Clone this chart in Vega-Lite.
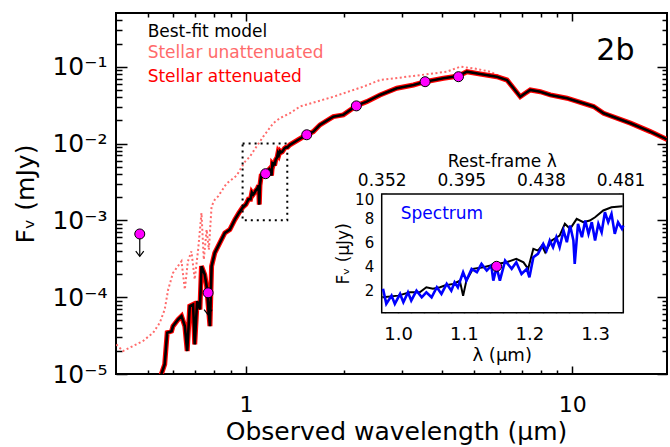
{
  "$schema": "https://vega.github.io/schema/vega-lite/v6.json",
  "width": 551,
  "height": 361,
  "autosize": {"type": "none"},
  "padding": {"left": 116, "top": 13, "right": 3, "bottom": 73},
  "background": "white",
  "datasets": {
    "model": [
      {"w":0.545,"f":8e-6},{"w":0.551,"f":1.0e-5},{"w":0.564,"f":1.34e-5},{"w":0.574,"f":3.45e-5},{"w":0.592,"f":3.61e-5},{"w":0.598,"f":4.2e-5},{"w":0.620,"f":5.13e-5},{"w":0.635,"f":5.66e-5},{"w":0.650,"f":4.2e-5},{"w":0.661,"f":1.99e-5},{"w":0.673,"f":7.64e-5},{"w":0.689,"f":8.03e-5},{"w":0.697,"f":2.43e-5},{"w":0.709,"f":8.87e-5},{"w":0.723,"f":6.92e-5},{"w":0.731,"f":2.53e-4},{"w":0.748,"f":1.97e-4},{"w":0.758,"f":1.39e-4},{"w":0.776,"f":4.2e-5},{"w":0.785,"f":2.53e-4},{"w":0.803,"f":3.78e-4},{"w":0.832,"f":5.09e-4},{"w":0.862,"f":6.86e-4},{"w":0.893,"f":7.57e-4},{"w":0.925,"f":1.02e-3},{"w":0.952,"f":1.25e-3},
      {"w":0.977,"f":1.47e-3},{"w":1.000,"f":1.61e-3},{"w":1.018,"f":1.88e-3},{"w":1.033,"f":1.88e-3},{"w":1.043,"f":2.30e-3},{"w":1.053,"f":2.17e-3},{"w":1.064,"f":2.30e-3},{"w":1.071,"f":2.44e-3},{"w":1.084,"f":2.58e-3},{"w":1.094,"f":2.85e-3},{"w":1.099,"f":1.6e-3},{"w":1.104,"f":2.85e-3},{"w":1.114,"f":3.82e-3},{"w":1.130,"f":3.95e-3},{"w":1.150,"f":4.23e-3},{"w":1.165,"f":4.36e-3},{"w":1.180,"f":4.64e-3},{"w":1.191,"f":4.36e-3},{"w":1.198,"f":3.82e-3},{"w":1.206,"f":5.47e-3},{"w":1.213,"f":5.33e-3},{"w":1.219,"f":5.74e-3},{"w":1.224,"f":5.19e-3},{"w":1.234,"f":6.16e-3},{"w":1.246,"f":6.57e-3},{"w":1.254,"f":7.54e-3},{"w":1.262,"f":7.12e-3},{"w":1.272,"f":7.95e-3},{"w":1.282,"f":7.67e-3},{"w":1.292,"f":7.81e-3},{"w":1.300,"f":8.08e-3},{"w":1.3125,"f":8.64e-3},{"w":1.325,"f":8.91e-3},{"w":1.342,"f":8.99e-3},
      {"w":1.364,"f":9.62e-3},{"w":1.447,"f":1.12e-2},{"w":1.535,"f":1.30e-2},{"w":1.609,"f":1.43e-2},{"w":1.686,"f":1.75e-2},{"w":1.853,"f":2.24e-2},{"w":1.988,"f":2.36e-2},{"w":2.175,"f":3.09e-2},{"w":2.345,"f":3.51e-2},{"w":2.576,"f":4.29e-2},{"w":2.900,"f":5.24e-2},{"w":3.261,"f":5.78e-2},{"w":3.540,"f":6.38e-2},{"w":4.030,"f":7.07e-2},{"w":4.479,"f":7.57e-2},{"w":4.753,"f":8.61e-2},{"w":5.222,"f":8.04e-2},{"w":5.875,"f":7.41e-2},{"w":6.305,"f":6.71e-2},{"w":6.607,"f":5.24e-2},{"w":6.928,"f":4.07e-2},{"w":7.175,"f":4.51e-2},{"w":7.433,"f":4.98e-2},{"w":7.978,"f":4.73e-2},{"w":8.56,"f":4.29e-2},{"w":9.63,"f":3.89e-2},{"w":11.62,"f":3.03e-2},{"w":12.47,"f":2.48e-2},{"w":15.07,"f":1.84e-2},{"w":17.34,"f":1.43e-2},{"w":19.5,"f":1.13e-2}
    ],
    "unatt": [
      {"w":0.401,"f":2.43e-5},{"w":0.420,"f":1.99e-5},{"w":0.451,"f":2.31e-5},{"w":0.484,"f":2.69e-5},{"w":0.520,"f":3.45e-5},{"w":0.545,"f":4.66e-5},{"w":0.564,"f":6.92e-5},{"w":0.578,"f":1.26e-4},{"w":0.598,"f":2.07e-4},{"w":0.635,"f":2.94e-4},{"w":0.650,"f":1.26e-4},{"w":0.664,"f":2.91e-4},{"w":0.681,"f":3.95e-4},{"w":0.697,"f":1.70e-4},{"w":0.714,"f":4.16e-4},{"w":0.731,"f":1.25e-3},{"w":0.743,"f":3.09e-4},{"w":0.758,"f":7.57e-4},{"w":0.770,"f":4.16e-4},{"w":0.785,"f":1.52e-3},{"w":0.803,"f":1.86e-3},{"w":0.822,"f":2.05e-3},{"w":0.872,"f":3.0e-3},{"w":0.936,"f":3.81e-3},{"w":0.993,"f":5.79e-3},{"w":1.029,"f":6.78e-3},{"w":1.078,"f":9.14e-3},{"w":1.130,"f":1.23e-2},{"w":1.213,"f":1.84e-2},{"w":1.271,"f":2.14e-2},{"w":1.364,"f":2.48e-2},{"w":1.464,"f":3.03e-2},{"w":1.648,"f":3.51e-2},{"w":1.853,"f":4.07e-2},{"w":2.290,"f":5.5e-2},{"w":2.576,"f":6.71e-2},{"w":3.261,"f":7.57e-2},{"w":4.127,"f":8.61e-2},{"w":4.533,"f":0.1},{"w":4.98,"f":9.53e-2},{"w":5.605,"f":8.61e-2},{"w":6.155,"f":7.07e-2},{"w":6.45,"f":6.33e-2}
    ],
    "phot": [
      {"w":0.473,"f":6.65e-4},{"w":0.766,"f":1.14e-4},{"w":1.149,"f":4.05e-3},{"w":1.536,"f":1.30e-2},{"w":2.18,"f":3.09e-2},{"w":3.54,"f":6.38e-2},{"w":4.48,"f":7.41e-2}
    ],
    "limits": [
      {"w":0.473,"f":6.65e-4,"fe":3.4e-4},{"w":0.766,"f":1.14e-4,"fe":5.9e-5}
    ],
    "box": [{"x1":0.977,"x2":1.339,"y1":0.001,"y2":0.01}],
    "legend": [
      {"label":"Best-fit model","w":0.5,"f":0.2454},
      {"label":"Stellar unattenuated","w":0.5,"f":0.1285},
      {"label":"Stellar attenuated","w":0.5,"f":0.0638}
    ],
    "tag": [{"label":"2b","w":15.5,"f":0.122}],
    "insetbox": [{"x1":0.975,"x2":1.343,"y1":0.2,"y2":10}],
    "imodel": [
      {"w":0.976,"f":1.45},{"w":0.977,"f":1.47},{"w":1.000,"f":1.61},{"w":1.018,"f":1.88},{"w":1.033,"f":1.88},{"w":1.043,"f":2.30},{"w":1.053,"f":2.17},{"w":1.064,"f":2.30},{"w":1.071,"f":2.44},{"w":1.084,"f":2.58},{"w":1.094,"f":2.85},{"w":1.099,"f":1.6},{"w":1.104,"f":2.85},{"w":1.114,"f":3.82},{"w":1.130,"f":3.95},{"w":1.150,"f":4.23},{"w":1.165,"f":4.36},{"w":1.180,"f":4.64},{"w":1.191,"f":4.36},{"w":1.198,"f":3.82},{"w":1.206,"f":5.47},{"w":1.213,"f":5.33},{"w":1.219,"f":5.74},{"w":1.224,"f":5.19},{"w":1.234,"f":6.16},{"w":1.246,"f":6.57},{"w":1.254,"f":7.54},{"w":1.262,"f":7.12},{"w":1.272,"f":7.95},{"w":1.282,"f":7.67},{"w":1.292,"f":7.81},{"w":1.300,"f":8.08},{"w":1.3125,"f":8.64},{"w":1.325,"f":8.91},{"w":1.342,"f":8.99}
    ],
    "spectrum": [
      {"w":0.977,"f":2.17},{"w":0.982,"f":0.93},{"w":0.990,"f":1.61},{"w":0.995,"f":0.93},{"w":1.003,"f":1.75},{"w":1.008,"f":1.06},{"w":1.015,"f":1.88},{"w":1.020,"f":1.20},{"w":1.028,"f":2.02},{"w":1.036,"f":1.47},{"w":1.043,"f":1.88},{"w":1.051,"f":1.47},{"w":1.059,"f":2.30},{"w":1.066,"f":1.75},{"w":1.074,"f":2.58},{"w":1.081,"f":2.02},{"w":1.086,"f":2.71},{"w":1.091,"f":2.30},{"w":1.099,"f":3.54},{"w":1.104,"f":2.85},{"w":1.112,"f":3.82},{"w":1.120,"f":3.54},{"w":1.127,"f":4.23},{"w":1.135,"f":3.68},{"w":1.142,"f":4.09},{"w":1.145,"f":2.85},{"w":1.150,"f":3.95},{"w":1.155,"f":2.85},{"w":1.163,"f":4.50},{"w":1.173,"f":3.82},{"w":1.180,"f":4.36},{"w":1.188,"f":3.40},{"w":1.196,"f":3.82},{"w":1.200,"f":3.12},{"w":1.206,"f":4.78},{"w":1.213,"f":5.06},{"w":1.221,"f":5.88},{"w":1.226,"f":5.33},{"w":1.231,"f":6.16},{"w":1.236,"f":5.60},{"w":1.241,"f":6.43},{"w":1.246,"f":5.60},{"w":1.252,"f":6.98},{"w":1.257,"f":6.02},{"w":1.262,"f":7.40},{"w":1.267,"f":6.16},{"w":1.269,"f":4.23},{"w":1.274,"f":7.54},{"w":1.280,"f":6.43},{"w":1.285,"f":7.81},{"w":1.290,"f":6.71},{"w":1.295,"f":7.67},{"w":1.300,"f":6.16},{"w":1.305,"f":7.54},{"w":1.310,"f":6.84},{"w":1.315,"f":8.50},{"w":1.320,"f":7.67},{"w":1.325,"f":8.36},{"w":1.330,"f":6.71},{"w":1.335,"f":7.67},{"w":1.341,"f":7.12},{"w":1.343,"f":7.40}
    ],
    "iphot": [{"w":1.15,"rest":0.4137,"f":4.03}],
    "ilabel": [{"label":"Spectrum","w":1.004,"f":7.95}]
  },
  "resolve": {"scale": {"x": "independent", "y": "independent"}},
  "layer": [
    {
      "data": {"name": "unatt"},
      "mark": {"type": "line", "color": "#ff6b6b", "strokeWidth": 2, "strokeDash": [2, 2.5], "clip": true},
      "encoding": {
        "x": {"field": "w", "type": "quantitative", "scale": {"type": "log", "domain": [0.4, 19.5], "nice": false},
          "axis": {"orient": "bottom", "values": [1, 10], "format": "~g", "ticks": false, "labelFontSize": 22, "labelPadding": 20, "title": "Observed wavelength (µm)", "titleFontSize": 25, "titleX": 280, "titleY": 65, "titleBaseline": "alphabetic", "titleAlign": "center"}},
        "y": {"field": "f", "type": "quantitative", "scale": {"type": "log", "domain": [1e-5, 0.5], "nice": false},
          "axis": {"orient": "left", "values": [1e-5, 1e-4, 0.001, 0.01, 0.1], "labelExpr": "datum.value < 3e-5 ? '10⁻⁵' : datum.value < 3e-4 ? '10⁻⁴' : datum.value < 3e-3 ? '10⁻³' : datum.value < 3e-2 ? '10⁻²' : '10⁻¹'", "ticks": false, "labelFontSize": 25, "labelPadding": 9, "title": "Fᵥ (mJy)", "titleFontSize": 25, "titleX": -83, "titleY": 180.5, "titleAngle": 270, "titleBaseline": "alphabetic", "titleAlign": "center"}}
      }
    },
    {
      "data": {"name": "model"},
      "mark": {"type": "line", "color": "#ff0000", "strokeWidth": 5, "clip": true},
      "encoding": {
        "x": {"field": "w", "type": "quantitative", "scale": {"type": "log", "domain": [0.4, 19.5], "nice": false},
          "axis": {"orient": "bottom", "values": [1, 10], "labels": false, "tickSize": 8, "offset": -8, "title": null}},
        "y": {"field": "f", "type": "quantitative", "scale": {"type": "log", "domain": [1e-5, 0.5], "nice": false},
          "axis": {"orient": "left", "values": [1e-5, 1e-4, 0.001, 0.01, 0.1], "labels": false, "tickSize": 11, "offset": -11, "title": null}}
      }
    },
    {
      "data": {"name": "model"},
      "mark": {"type": "line", "color": "black", "strokeWidth": 2.6, "clip": true},
      "encoding": {
        "x": {"field": "w", "type": "quantitative", "scale": {"type": "log", "domain": [0.4, 19.5], "nice": false},
          "axis": {"orient": "bottom", "values": [0.5, 0.6, 0.7, 0.8, 0.9, 2, 3, 4, 5, 6, 7, 8, 9], "labels": false, "tickSize": 4, "offset": -4, "title": null}},
        "y": {"field": "f", "type": "quantitative", "scale": {"type": "log", "domain": [1e-5, 0.5], "nice": false},
          "axis": {"orient": "left", "values": [2e-5,3e-5,4e-5,5e-5,6e-5,7e-5,8e-5,9e-5,2e-4,3e-4,4e-4,5e-4,6e-4,7e-4,8e-4,9e-4,0.002,0.003,0.004,0.005,0.006,0.007,0.008,0.009,0.02,0.03,0.04,0.05,0.06,0.07,0.08,0.09,0.2,0.3,0.4], "labels": false, "tickSize": 6, "offset": -6, "title": null}}
      }
    },
    {
      "data": {"name": "box"},
      "mark": {"type": "rect", "fill": null, "fillOpacity": 0, "stroke": "black", "strokeWidth": 2, "strokeDash": [2, 4]},
      "encoding": {
        "x": {"field": "x1", "type": "quantitative", "scale": {"type": "log", "domain": [0.4, 19.5], "nice": false},
          "axis": {"orient": "top", "values": [1, 10], "labels": false, "tickSize": 8, "offset": -8, "title": null}},
        "x2": {"field": "x2"},
        "y": {"field": "y1", "type": "quantitative", "scale": {"type": "log", "domain": [1e-5, 0.5], "nice": false},
          "axis": {"orient": "right", "values": [1e-5, 1e-4, 0.001, 0.01, 0.1], "labels": false, "tickSize": 10, "offset": -10, "title": null}},
        "y2": {"field": "y2"}
      }
    },
    {
      "data": {"name": "limits"},
      "mark": {"type": "rule", "color": "black", "strokeWidth": 1.2},
      "encoding": {
        "x": {"field": "w", "type": "quantitative", "scale": {"type": "log", "domain": [0.4, 19.5], "nice": false},
          "axis": {"orient": "top", "values": [0.5, 0.6, 0.7, 0.8, 0.9, 2, 3, 4, 5, 6, 7, 8, 9], "labels": false, "tickSize": 4, "offset": -4, "title": null}},
        "y": {"field": "f", "type": "quantitative", "scale": {"type": "log", "domain": [1e-5, 0.5], "nice": false},
          "axis": {"orient": "right", "values": [2e-5,3e-5,4e-5,5e-5,6e-5,7e-5,8e-5,9e-5,2e-4,3e-4,4e-4,5e-4,6e-4,7e-4,8e-4,9e-4,0.002,0.003,0.004,0.005,0.006,0.007,0.008,0.009,0.02,0.03,0.04,0.05,0.06,0.07,0.08,0.09,0.2,0.3,0.4], "labels": false, "tickSize": 5, "offset": -5, "title": null}},
        "y2": {"field": "fe"}
      }
    },
    {
      "data": {"name": "limits"},
      "mark": {"type": "point", "shape": "M-1,-1.3L0,0L1,-1.3", "size": 64, "filled": false, "stroke": "black", "strokeWidth": 1.2, "opacity": 1},
      "encoding": {
        "x": {"field": "w", "type": "quantitative", "scale": {"type": "log", "domain": [0.4, 19.5], "nice": false}, "axis": null},
        "y": {"field": "fe", "type": "quantitative", "scale": {"type": "log", "domain": [1e-5, 0.5], "nice": false}, "axis": null}
      }
    },
    {
      "data": {"name": "phot"},
      "mark": {"type": "circle", "size": 100, "fill": "#ff00ff", "stroke": "black", "strokeWidth": 1, "opacity": 1},
      "encoding": {
        "x": {"field": "w", "type": "quantitative", "scale": {"type": "log", "domain": [0.4, 19.5], "nice": false}, "axis": null},
        "y": {"field": "f", "type": "quantitative", "scale": {"type": "log", "domain": [1e-5, 0.5], "nice": false}, "axis": null}
      }
    },
    {
      "data": {"name": "legend"},
      "mark": {"type": "text", "align": "left", "baseline": "alphabetic", "fontSize": 17, "font": "DejaVu Sans"},
      "encoding": {
        "x": {"field": "w", "type": "quantitative", "scale": {"type": "log", "domain": [0.4, 19.5], "nice": false}, "axis": null},
        "y": {"field": "f", "type": "quantitative", "scale": {"type": "log", "domain": [1e-5, 0.5], "nice": false}, "axis": null},
        "text": {"field": "label"},
        "color": {"field": "label", "type": "nominal", "scale": {"domain": ["Best-fit model", "Stellar unattenuated", "Stellar attenuated"], "range": ["black", "#ff6b6b", "#ff0000"]}, "legend": null}
      }
    },
    {
      "data": {"name": "tag"},
      "mark": {"type": "text", "align": "right", "baseline": "alphabetic", "fontSize": 30, "font": "DejaVu Sans", "color": "black"},
      "encoding": {
        "x": {"field": "w", "type": "quantitative", "scale": {"type": "log", "domain": [0.4, 19.5], "nice": false}, "axis": null},
        "y": {"field": "f", "type": "quantitative", "scale": {"type": "log", "domain": [1e-5, 0.5], "nice": false}, "axis": null},
        "text": {"field": "label"}
      }
    },
    {
      "data": {"name": "insetbox"},
      "mark": {"type": "rect", "fill": "white", "stroke": "black", "strokeWidth": 1.5},
      "encoding": {
        "x": {"field": "x1", "type": "quantitative", "scale": {"type": "linear", "domain": [0.975, 1.343], "range": [265.7, 507.3], "nice": false, "zero": false},
          "axis": {"orient": "bottom", "values": [1.0, 1.1, 1.2, 1.3], "format": ".1f", "ticks": false, "offset": -61.3, "labelFontSize": 18, "labelPadding": 13, "title": "λ (µm)", "titleFontSize": 18, "titleX": 385.7, "titleY": 47.3, "titleBaseline": "alphabetic", "titleAlign": "center"}},
        "x2": {"field": "x2"},
        "y": {"field": "y1", "type": "quantitative", "scale": {"type": "linear", "domain": [0.2, 10], "range": [299.7, 181], "nice": false, "zero": false},
          "axis": {"orient": "left", "values": [2, 4, 6, 8, 10], "format": "d", "ticks": false, "offset": -265.7, "labelFontSize": 15, "labelPadding": 8, "labelFlush": true, "labelFlushOffset": 1.5, "title": "Fᵥ (µJy)", "titleFontSize": 17, "titleX": -33.7, "titleY": 240.4, "titleAngle": 270, "titleBaseline": "alphabetic", "titleAlign": "center"}},
        "y2": {"field": "y2"}
      }
    },
    {
      "data": {"name": "imodel"},
      "mark": {"type": "line", "color": "black", "strokeWidth": 2},
      "encoding": {
        "x": {"field": "w", "type": "quantitative", "scale": {"type": "linear", "domain": [0.975, 1.343], "range": [265.7, 507.3], "nice": false, "zero": false},
          "axis": {"orient": "bottom", "values": [1.0, 1.1, 1.2, 1.3], "labels": false, "tickSize": 5, "offset": -66.3, "title": null}},
        "y": {"field": "f", "type": "quantitative", "scale": {"type": "linear", "domain": [0.2, 10], "range": [299.7, 181], "nice": false, "zero": false},
          "axis": {"orient": "left", "values": [2, 4, 6, 8, 10], "labels": false, "tickSize": 5, "offset": -270.7, "title": null}}
      }
    },
    {
      "data": {"name": "spectrum"},
      "mark": {"type": "line", "color": "#0000ff", "strokeWidth": 2.6},
      "encoding": {
        "x": {"field": "w", "type": "quantitative", "scale": {"type": "linear", "domain": [0.975, 1.343], "range": [265.7, 507.3], "nice": false, "zero": false},
          "axis": {"orient": "bottom", "values": [0.98, 1.02, 1.04, 1.06, 1.08, 1.12, 1.14, 1.16, 1.18, 1.22, 1.24, 1.26, 1.28, 1.32, 1.34], "labels": false, "tickSize": 3, "offset": -64.3, "title": null}},
        "y": {"field": "f", "type": "quantitative", "scale": {"type": "linear", "domain": [0.2, 10], "range": [299.7, 181], "nice": false, "zero": false},
          "axis": {"orient": "left", "values": [1, 3, 5, 7, 9], "labels": false, "tickSize": 3, "offset": -268.7, "title": null}}
      }
    },
    {
      "data": {"name": "iphot"},
      "mark": {"type": "circle", "size": 100, "fill": "#ff00ff", "stroke": "black", "strokeWidth": 1, "opacity": 1},
      "encoding": {
        "x": {"field": "w", "type": "quantitative", "scale": {"type": "linear", "domain": [0.975, 1.343], "range": [265.7, 507.3], "nice": false, "zero": false}, "axis": null},
        "y": {"field": "f", "type": "quantitative", "scale": {"type": "linear", "domain": [0.2, 10], "range": [299.7, 181], "nice": false, "zero": false},
          "axis": {"orient": "right", "values": [2, 4, 6, 8, 10], "labels": false, "tickSize": 5, "offset": -48.7, "title": null}}
      }
    },
    {
      "data": {"name": "ilabel"},
      "mark": {"type": "text", "align": "left", "baseline": "alphabetic", "fontSize": 17, "font": "DejaVu Sans", "color": "#0000ff"},
      "encoding": {
        "x": {"field": "w", "type": "quantitative", "scale": {"type": "linear", "domain": [0.975, 1.343], "range": [265.7, 507.3], "nice": false, "zero": false}, "axis": null},
        "y": {"field": "f", "type": "quantitative", "scale": {"type": "linear", "domain": [0.2, 10], "range": [299.7, 181], "nice": false, "zero": false},
          "axis": {"orient": "right", "values": [1, 3, 5, 7, 9], "labels": false, "tickSize": 3, "offset": -46.7, "title": null}},
        "text": {"field": "label"}
      }
    },
    {
      "data": {"name": "iphot"},
      "mark": {"type": "point", "opacity": 0},
      "encoding": {
        "x": {"field": "rest", "type": "quantitative", "scale": {"type": "linear", "domain": [0.352, 0.4825], "range": [265.7, 507.3], "nice": false, "zero": false},
          "axis": {"orient": "top", "values": [0.352, 0.395, 0.438, 0.481], "format": ".3f", "ticks": false, "offset": -181, "labelFontSize": 17, "labelPadding": 5, "title": "Rest-frame λ", "titleFontSize": 17, "titleX": 385.7, "titleY": -28, "titleBaseline": "alphabetic", "titleAlign": "center"}}
      }
    },
    {
      "data": {"name": "iphot"},
      "mark": {"type": "point", "opacity": 0},
      "encoding": {
        "x": {"field": "rest", "type": "quantitative", "scale": {"type": "linear", "domain": [0.352, 0.4825], "range": [265.7, 507.3], "nice": false, "zero": false},
          "axis": {"orient": "top", "values": [0.352, 0.395, 0.438, 0.481], "labels": false, "tickSize": 5, "offset": -186, "title": null}}
      }
    }
  ],
  "config": {
    "font": "DejaVu Sans",
    "view": {"stroke": "black", "strokeWidth": 2},
    "axis": {"grid": false, "domain": false, "labelFont": "DejaVu Sans", "titleFont": "DejaVu Sans", "labelColor": "black", "titleColor": "black", "tickColor": "black", "tickWidth": 1.5, "titleFontWeight": "normal", "labelOverlap": false, "labelFlush": false, "labelBound": false, "zindex": 1}
  }
}
